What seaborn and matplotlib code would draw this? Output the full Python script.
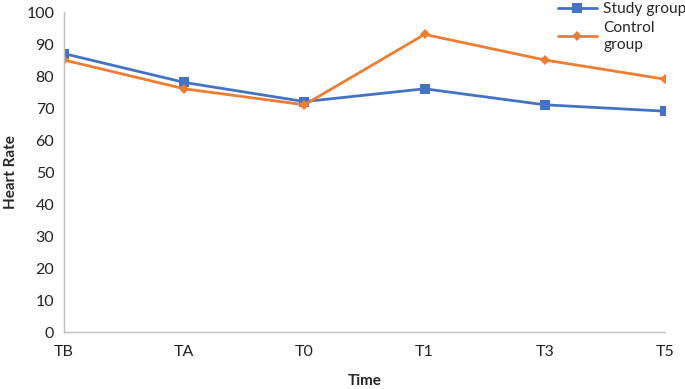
import matplotlib
matplotlib.use("Agg")
import matplotlib.pyplot as plt
import seaborn as sns
import pandas as pd

times = ["TB", "TA", "T0", "T1", "T3", "T5"]
study = [87, 78, 72, 76, 71, 69]
control = [85, 76, 71, 93, 85, 79]
series_names = ["Study group", "Control\ngroup"]

df = pd.DataFrame({
    "Time": times * 2,
    "Heart Rate": study + control,
    "Group": [series_names[0]] * len(times) + [series_names[1]] * len(times),
})
df["x"] = list(range(len(times))) * 2

sns.set_style("white")
plt.rcParams["font.family"] = ["Lato", "DejaVu Sans"]

fig = plt.figure(figsize=(6.85, 3.89), dpi=100)
ax = fig.add_axes([64/685, 1 - 332/389, (665 - 64)/685, (332 - 12)/389])

sns.lineplot(data=df, x="x", y="Heart Rate", hue="Group", style="Group",
             palette=["#4472C4", "#ED7D31"], markers=["s", "D"], dashes=False,
             markersize=7.5, linewidth=2, markeredgewidth=0, ax=ax)
for line in ax.lines:
    if line.get_marker() == "D":
        line.set_markersize(5.5)

ax.set_xlim(0, len(times) - 1)
ax.set_ylim(0, 100)
ax.set_xticks(range(len(times)))
ax.set_xticklabels(times)
ax.set_yticks(range(0, 101, 10))
ax.tick_params(axis="both", direction="out", length=4, width=1, color="#BFBFBF",
               labelsize=11.5, labelcolor="#222222", pad=3)
ax.tick_params(axis="x", pad=5)
for s in ["top", "right"]:
    ax.spines[s].set_visible(False)
for s in ["left", "bottom"]:
    ax.spines[s].set_color("#BFBFBF")
    ax.spines[s].set_linewidth(1)
ax.set_xlabel("Time", fontsize=11, fontweight="bold", labelpad=11)
ax.set_ylabel("Heart Rate", fontsize=11, fontweight="bold", labelpad=6)

handles, labels = ax.get_legend_handles_labels()
leg = ax.legend(handles, labels, loc="upper left", bbox_to_anchor=(558/685, 1 - 2/389),
                bbox_transform=fig.transFigure, frameon=False, fontsize=11.2,
                handlelength=2.5, handletextpad=0.4, labelspacing=0.3,
                borderaxespad=0, borderpad=0)
for t in leg.get_texts():
    t.set_linespacing(1.3)

fig.savefig("out.png", dpi=100)
